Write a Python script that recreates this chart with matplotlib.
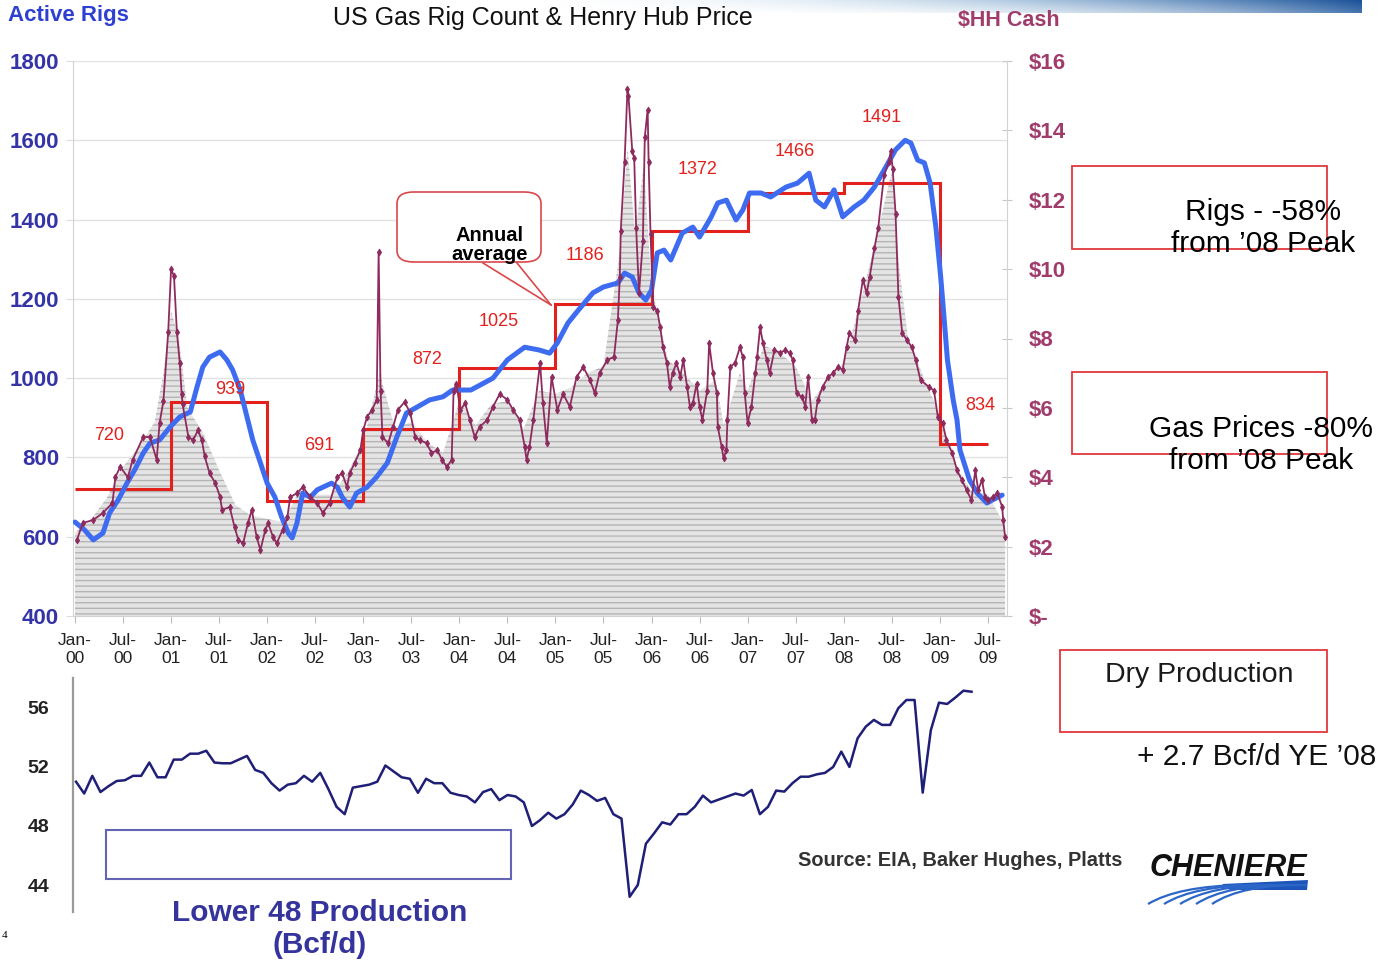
import numpy as np
import matplotlib.pyplot as plt
from matplotlib.patches import Rectangle, FancyBboxPatch, PathPatch, Polygon
from matplotlib.path import Path
from matplotlib.lines import Line2D

plt.rcParams['font.family'] = ['Liberation Sans', 'DejaVu Sans']
plt.rcParams['hatch.linewidth'] = 1.0

# --- weekly Henry Hub cash price ($/MMBtu), decimal year ---
price_t = [2000.02, 2000.08, 2000.19, 2000.29, 2000.39, 2000.42, 2000.47, 2000.55, 2000.60, 2000.71,
           2000.78, 2000.85, 2000.88, 2000.92, 2000.97,
           2001.00, 2001.03, 2001.06, 2001.09, 2001.11, 2001.12, 2001.18, 2001.23, 2001.28, 2001.32,
           2001.35, 2001.40, 2001.46, 2001.51, 2001.53, 2001.61, 2001.66, 2001.70, 2001.75, 2001.80,
           2001.84, 2001.89, 2001.93, 2001.98,
           2002.01, 2002.06, 2002.10, 2002.16, 2002.21, 2002.24, 2002.31, 2002.37, 2002.45, 2002.52,
           2002.58, 2002.65, 2002.73, 2002.78, 2002.83, 2002.86, 2002.91, 2002.97,
           2003.00, 2003.04, 2003.09, 2003.14, 2003.16, 2003.18, 2003.20, 2003.26, 2003.31, 2003.36,
           2003.43, 2003.49, 2003.54, 2003.59, 2003.66, 2003.71, 2003.77, 2003.82, 2003.87, 2003.92,
           2003.94, 2003.97,
           2004.01, 2004.06, 2004.11, 2004.16, 2004.21, 2004.29, 2004.35, 2004.42, 2004.50, 2004.56,
           2004.63, 2004.68, 2004.70, 2004.73, 2004.77, 2004.84, 2004.87, 2004.91, 2004.96,
           2005.02, 2005.08, 2005.15, 2005.22, 2005.29, 2005.36, 2005.41, 2005.46, 2005.54, 2005.61,
           2005.65, 2005.67, 2005.68, 2005.72, 2005.75, 2005.76, 2005.80, 2005.82, 2005.84, 2005.87,
           2005.91, 2005.93, 2005.96, 2005.97, 2005.99,
           2006.02, 2006.06, 2006.09, 2006.12, 2006.16, 2006.19, 2006.22, 2006.26, 2006.30, 2006.33,
           2006.37, 2006.40, 2006.43, 2006.47, 2006.50, 2006.53, 2006.58, 2006.60, 2006.64, 2006.68,
           2006.69, 2006.73, 2006.75, 2006.78, 2006.79, 2006.82, 2006.87, 2006.92, 2006.95, 2006.97,
           2007.00, 2007.04, 2007.08, 2007.10, 2007.13, 2007.16, 2007.20, 2007.23, 2007.28, 2007.34,
           2007.39, 2007.44, 2007.47, 2007.51, 2007.57, 2007.60, 2007.63, 2007.67, 2007.70, 2007.73,
           2007.78, 2007.84, 2007.89, 2007.94, 2007.99,
           2008.03, 2008.06, 2008.12, 2008.15, 2008.20, 2008.24, 2008.27, 2008.32, 2008.36, 2008.42,
           2008.47, 2008.49, 2008.51, 2008.54, 2008.57, 2008.61, 2008.66, 2008.71, 2008.75, 2008.80,
           2008.89, 2008.94, 2008.98,
           2009.03, 2009.07, 2009.13, 2009.18, 2009.23, 2009.28, 2009.33, 2009.37, 2009.40, 2009.44,
           2009.47, 2009.50, 2009.55, 2009.60, 2009.65, 2009.66, 2009.68]
price_usd = [2.19, 2.68, 2.77, 2.97, 3.26, 4.0, 4.3, 4.0, 4.5, 5.16,
             5.16, 4.5, 5.56, 6.2, 8.2,
             10.0, 9.8, 8.2, 7.3, 6.4, 6.1, 5.16, 5.07, 5.36, 5.07,
             4.6, 4.12, 3.83, 3.43, 3.06, 3.14, 2.57, 2.19, 2.1, 2.68,
             3.06, 2.28, 1.9, 2.48,
             2.68, 2.28, 2.1, 2.48, 2.85, 3.43, 3.54, 3.72, 3.43, 3.26,
             2.97, 3.26, 4.0, 4.12, 3.72, 4.12, 4.41, 4.78,
             5.36, 5.74, 5.94, 6.23, 10.5, 6.5, 5.16, 4.98, 5.45, 5.94,
             6.17, 5.85, 5.16, 5.07, 4.98, 4.7, 4.78, 4.5, 4.3, 4.5,
             6.5, 6.7,
             5.94, 6.13, 5.65, 5.16, 5.45, 5.65, 6.03, 6.4, 6.23, 5.94,
             5.65, 4.88, 4.5, 4.88, 5.65, 7.3, 6.13, 4.98, 6.89,
             5.94, 6.4, 6.03, 6.89, 7.18, 6.8, 6.43, 7.0, 7.38, 7.47,
             8.53, 9.77, 11.1, 13.1, 15.2, 15.0, 13.4, 13.2, 11.2, 9.3,
             10.8, 13.8, 14.6, 13.1, 11.0,
             8.9, 8.8, 8.33, 7.75, 7.3, 6.6, 7.0, 7.3, 6.9, 7.38,
             6.6, 6.03, 6.13, 6.7, 6.03, 5.65, 6.5, 7.87, 7.0, 6.43,
             5.45, 4.88, 4.55, 4.78, 5.65, 7.18, 7.3, 7.75, 7.47, 6.43,
             5.56, 6.03, 7.0, 7.47, 8.33, 7.87, 7.38, 7.0, 7.67, 7.58,
             7.67, 7.58, 7.38, 6.43, 6.3, 6.03, 6.9, 5.65, 5.65, 6.23,
             6.6, 6.9, 7.0, 7.18, 7.1,
             7.75, 8.15, 7.95, 8.8, 9.7, 9.3, 9.77, 10.6, 11.2, 12.7,
             13.1, 13.4, 12.9, 11.6, 9.2, 8.15, 7.95, 7.75, 7.38, 6.8,
             6.6, 6.5, 5.74,
             5.56, 5.07, 4.7, 4.2, 3.92, 3.63, 3.34, 4.2, 3.63, 3.92,
             3.43, 3.34, 3.43, 3.54, 3.14, 2.77, 2.28]

# --- grey shaded price band ($) ---
band_t = [2000.00, 2000.17, 2000.33, 2000.50, 2000.67, 2000.83, 2000.92, 2001.00, 2001.08, 2001.17,
          2001.33, 2001.50, 2001.67, 2001.83, 2002.00, 2002.17, 2002.33, 2002.50, 2002.67, 2002.83,
          2003.00, 2003.17, 2003.33, 2003.50, 2003.67, 2003.83, 2004.00, 2004.17, 2004.33, 2004.50,
          2004.67, 2004.83, 2005.00, 2005.17, 2005.33, 2005.50, 2005.67, 2005.75, 2005.83, 2005.92,
          2006.00, 2006.17, 2006.33, 2006.50, 2006.67, 2006.75, 2006.92, 2007.00, 2007.17, 2007.33,
          2007.50, 2007.67, 2007.83, 2008.00, 2008.17, 2008.33, 2008.50, 2008.58, 2008.67, 2008.83,
          2009.00, 2009.17, 2009.33, 2009.50, 2009.68]
band_usd = [2.4, 2.8, 3.4, 4.3, 4.9, 5.6, 7.0, 8.8, 8.0, 6.0,
            5.3, 4.2, 3.2, 2.9, 2.8, 2.7, 3.6, 3.5, 3.5, 4.1,
            5.0, 7.0, 5.4, 5.6, 5.0, 4.7, 6.2, 5.5, 6.1, 6.2,
            5.4, 6.5, 6.4, 6.6, 7.0, 7.2, 10.5, 13.5, 11.0, 13.0,
            9.5, 7.4, 7.0, 6.5, 6.8, 5.5, 7.0, 6.5, 7.8, 7.6,
            7.2, 6.2, 6.8, 7.3, 9.0, 10.8, 12.8, 10.0, 8.0, 6.9,
            5.8, 4.3, 3.6, 3.5, 2.6]

# --- US gas rig count ---
rig_t = [2000.00, 2000.10, 2000.19, 2000.29, 2000.36, 2000.45, 2000.54, 2000.62, 2000.71, 2000.78, 2000.88, 2000.99,
         2001.09, 2001.20, 2001.27, 2001.33, 2001.40, 2001.51, 2001.58, 2001.64, 2001.72, 2001.79, 2001.85, 2001.93,
         2002.00, 2002.08, 2002.15, 2002.22, 2002.26, 2002.31, 2002.37, 2002.45, 2002.52, 2002.58, 2002.67, 2002.73,
         2002.78, 2002.86, 2002.93,
         2003.04, 2003.14, 2003.25, 2003.35, 2003.45, 2003.56, 2003.69, 2003.83, 2003.93,
         2004.04, 2004.12, 2004.35, 2004.50, 2004.68, 2004.83, 2004.94,
         2005.02, 2005.13, 2005.24, 2005.39, 2005.50, 2005.65, 2005.72, 2005.80, 2005.87, 2005.94,
         2006.00, 2006.06, 2006.13, 2006.20, 2006.32, 2006.43, 2006.50, 2006.62, 2006.69, 2006.78, 2006.88, 2006.95,
         2007.02, 2007.14, 2007.24, 2007.40, 2007.52, 2007.64, 2007.71, 2007.80, 2007.90, 2007.99,
         2008.11, 2008.21, 2008.32, 2008.44, 2008.54, 2008.64, 2008.70, 2008.77, 2008.84, 2008.90, 2008.96,
         2009.01, 2009.03, 2009.08, 2009.14, 2009.18, 2009.21, 2009.31, 2009.39, 2009.49, 2009.55, 2009.65]
rigs = [637, 617, 592, 609, 660, 693, 735, 768, 811, 836, 844, 877,
        902, 915, 978, 1028, 1053, 1066, 1046, 1021, 970, 902, 844, 786,
        735, 700, 650, 609, 597, 635, 710, 700, 718, 725, 735, 725,
        700, 675, 710,
        725, 751, 786, 852, 912, 927, 945, 953, 970,
        970, 970, 1000, 1046, 1078, 1071, 1063,
        1089, 1139, 1172, 1215, 1230, 1240, 1265, 1255, 1215, 1197,
        1222, 1316, 1323, 1298, 1366, 1381, 1356, 1406, 1442, 1449, 1399, 1424,
        1467, 1467, 1457, 1482, 1492, 1517, 1449, 1432, 1475, 1407,
        1432, 1449, 1482, 1533, 1576, 1600, 1593, 1550, 1543, 1492, 1381,
        1255, 1197, 1046, 945, 894, 819, 743, 710, 685, 693, 705]

# --- annual average rig count ---
avg_edges = [2000, 2001, 2002, 2003, 2004, 2005, 2006, 2007, 2008, 2009, 2009.5]
avg_rigs = [720, 939, 691, 872, 1025, 1186, 1372, 1466, 1491, 834]

# --- Lower 48 dry production, monthly from Jan-2000 (Bcf/d) ---
prod_bcfd = [51.0, 50.2, 51.4, 50.3, 50.7, 51.05, 51.1, 51.4, 51.4, 52.3, 51.3, 51.3,
             52.5, 52.5, 52.9, 52.9, 53.1, 52.3, 52.25, 52.25, 52.5, 52.75, 51.8, 51.6,
             50.9, 50.4, 50.8, 50.9, 51.4, 51.0, 51.6, 50.5, 49.3, 48.8, 50.6, 50.7,
             50.8, 51.0, 52.1, 51.7, 51.3, 51.2, 50.25, 51.2, 50.9, 50.9, 50.25, 50.1,
             50.0, 49.6, 50.3, 50.5, 49.75, 50.1, 50.0, 49.6, 48.0, 48.4, 48.9, 48.5,
             48.8, 49.45, 50.4, 50.1, 49.7, 49.9, 48.8, 48.5, 43.2, 44.0, 46.8, 47.5,
             48.25, 48.1, 48.8, 48.8, 49.3, 50.06, 49.6, 49.8, 50.0, 50.2, 50.06, 50.44,
             48.8, 49.3, 50.4, 50.33, 50.9, 51.34, 51.34, 51.5, 51.6, 52.0, 53.04, 52.0,
             53.94, 54.73, 55.19, 54.85, 54.85, 55.98, 56.54, 56.54, 50.26, 54.5, 56.36, 56.27,
             56.7, 57.17, 57.1]

x_ticks = [2000 + 0.5 * i for i in range(20)]
x_labels = [('Jan-' if i % 2 == 0 else 'Jul-') + '\n' + f'{i // 2:02d}' for i in range(20)]
rig_ticks = [400, 600, 800, 1000, 1200, 1400, 1600, 1800]
usd_ticks = [0, 2, 4, 6, 8, 10, 12, 14, 16]
usd_labels = ['$-'] + [f'${v}' for v in usd_ticks[1:]]
prod_ticks = [44, 48, 52, 56]

W, H = 1395, 966
BLUE_TXT = '#3434a8'
MAROON = '#8e2b5e'
RED = '#e3201b'
GREYLINE = '#d2d2d2'


def fx(x):
    return x / W


def fy(y):
    return 1 - y / H


def fig_rect(x0, y0, x1, y1):
    return [fx(x0), fy(y1), fx(x1) - fx(x0), fy(y0) - fy(y1)]


fig = plt.figure(figsize=(W / 100, H / 100), dpi=100)
fig.patch.set_facecolor('white')

# top banner swoosh
ban = fig.add_axes(fig_rect(520, 0, 1362, 13))
ban.axis('off')
gx = np.linspace(0, 1, 300)
gy = np.linspace(0, 1, 20)[:, None]
rgba = np.zeros((20, 300, 4))
rgba[..., 0] = 0.10 + 0.45 * (1 - gx)
rgba[..., 1] = 0.32 + 0.45 * (1 - gx)
rgba[..., 2] = 0.60 + 0.30 * (1 - gx)
rgba[..., 3] = np.clip(gx ** 1.6 * (1.0 - gy * (1.2 - gx)), 0, 1)
ban.imshow(rgba, aspect='auto', extent=[0, 1, 0, 1], origin='upper')

rect_top = fig_rect(73, 61, 1007, 616)
t_lim = (1999.979, 2009.70)

# shaded band (price scale)
axf = fig.add_axes(rect_top)
axf.set_xlim(*t_lim)
axf.set_ylim(0, 16)
axf.fill_between(band_t, band_usd, 0, facecolor='#e4e4e4', edgecolor='#b4b4b4',
                 hatch='---', linewidth=0)
axf.axis('off')

# rigs (left scale)
ax = fig.add_axes(rect_top)
ax.patch.set_visible(False)
ax.set_xlim(*t_lim)
ax.set_ylim(400, 1800)
ax.set_yticks(rig_ticks)
ax.set_yticklabels([str(v) for v in rig_ticks])
ax.grid(axis='y', color='#e2e2e2', linewidth=1)
ax.set_axisbelow(True)
ax.stairs(avg_rigs, avg_edges, baseline=None, color=RED, linewidth=2.2, zorder=3)
ax.plot(rig_t, rigs, color='#3d6cf0', linewidth=3.6, solid_capstyle='round', zorder=4)
ax.set_xticks(x_ticks)
ax.set_xticklabels(x_labels, fontsize=12.5, color='#222222', linespacing=1.25)
ax.tick_params(axis='x', length=5, color='#bbbbbb', pad=7)
ax.tick_params(axis='y', length=5, color='#dddddd', pad=5, labelsize=16, labelcolor=BLUE_TXT)
for lab in ax.get_yticklabels():
    lab.set_fontweight('bold')
for s in ['top', 'right']:
    ax.spines[s].set_visible(False)
for s in ['left', 'bottom']:
    ax.spines[s].set_color(GREYLINE)

# price (right scale)
axp = fig.add_axes(rect_top)
axp.patch.set_visible(False)
axp.set_xlim(*t_lim)
axp.set_ylim(0, 16)
axp.plot(price_t, price_usd, color=MAROON, linewidth=1.3, marker='d', markersize=3.5,
         markeredgewidth=0.6, zorder=5)
axp.yaxis.tick_right()
axp.set_yticks(usd_ticks)
axp.set_yticklabels(usd_labels)
axp.tick_params(axis='y', length=7, direction='inout', color='#c8c8c8', pad=12,
                labelsize=16, labelcolor='#a03c6c')
for lab in axp.get_yticklabels():
    lab.set_fontweight('bold')
axp.set_xticks([])
for s in ['top', 'left', 'bottom']:
    axp.spines[s].set_visible(False)
axp.spines['right'].set_color(GREYLINE)

# annual average labels
avg_label_px = [(109, 435), (230, 389), (319, 445), (427, 359), (499, 322),
                (585, 255), (698, 169), (795, 152), (882, 117), (980, 405)]
for v, (px, py) in zip(avg_rigs, avg_label_px):
    fig.text(fx(px), fy(py), str(v), color=RED, fontsize=13, ha='center', va='center', zorder=10)

# callout "Annual average"
box = FancyBboxPatch((fx(397), fy(262)), fx(541) - fx(397), fy(192) - fy(262),
                     boxstyle='round,pad=0,rounding_size=0.012', transform=fig.transFigure,
                     facecolor='white', edgecolor='#d9474a', linewidth=1.2, zorder=6)
fig.add_artist(box)
for bx in (483, 517):
    fig.add_artist(Line2D([fx(bx), fx(551)], [fy(263), fy(305)], transform=fig.transFigure,
                          color='#d9474a', linewidth=1.2, zorder=6))
fig.text(fx(490), fy(245), 'Annual\naverage', fontsize=14.5, fontweight='bold',
         ha='center', va='center', linespacing=1.05, zorder=7)

# header texts
fig.text(fx(8), fy(16), 'Active Rigs', fontsize=16, fontweight='bold', color='#2e40d2',
         ha='left', va='center')
fig.text(fx(543), fy(18), 'US Gas Rig Count & Henry Hub Price', fontsize=18,
         color='#111111', ha='center', va='center')
fig.text(fx(958), fy(21), '$HH Cash', fontsize=15.5, fontweight='bold', color='#a03c6c',
         ha='left', va='center')

# right-side note boxes
for (x0, y0, x1, y1) in [(1072, 166, 1327, 249), (1072, 372, 1327, 454), (1060, 650, 1327, 732)]:
    fig.add_artist(Rectangle((fx(x0), fy(y1)), fx(x1) - fx(x0), fy(y0) - fy(y1),
                             transform=fig.transFigure, facecolor='none',
                             edgecolor='#e0383c', linewidth=1.3))
fig.text(fx(1263), fy(228), 'Rigs - -58%\nfrom \u201908 Peak', fontsize=21.5,
         ha='center', va='center', linespacing=1.2)
fig.text(fx(1261), fy(445), 'Gas Prices -80%\nfrom \u201908 Peak', fontsize=21.5,
         ha='center', va='center', linespacing=1.2)
fig.text(fx(1199), fy(675), 'Dry Production', fontsize=20.5, color='#1a1a1a',
         ha='center', va='center')
fig.text(fx(1257), fy(757), '+ 2.7 Bcf/d YE \u201908', fontsize=21.5, color='#111111',
         ha='center', va='center')

# bottom production chart
axb = fig.add_axes(fig_rect(73, 678, 1005, 912))
prod_t = 2000 + np.arange(len(prod_bcfd)) / 12
axb.plot(prod_t, prod_bcfd, color='#1f1f78', linewidth=1.8)
axb.set_xlim(1999.969, 2009.509)
axb.set_ylim(42.17, 58.03)
axb.set_yticks(prod_ticks)
axb.set_yticklabels([str(v) for v in prod_ticks])
axb.set_xticks([])
axb.tick_params(axis='y', length=0, pad=17, labelsize=14, labelcolor='#222222')
for lab in axb.get_yticklabels():
    lab.set_fontweight('bold')
for s in ['top', 'right', 'bottom']:
    axb.spines[s].set_visible(False)
axb.spines['left'].set_color('#9a9a9a')
axb.spines['left'].set_linewidth(1.6)
axb.patch.set_visible(False)

fig.add_artist(Rectangle((fx(106), fy(879)), fx(511) - fx(106), fy(830) - fy(879),
                         transform=fig.transFigure, facecolor='none',
                         edgecolor='#6464b4', linewidth=1.5))
fig.text(fx(320), fy(929), 'Lower 48 Production\n(Bcf/d)', fontsize=21.5, fontweight='bold',
         color='#34349c', ha='center', va='center', linespacing=1.15)
fig.text(fx(960), fy(861), 'Source: EIA, Baker Hughes, Platts', fontsize=14.4,
         fontweight='bold', color='#333333', ha='center', va='center')
fig.text(fx(2), fy(935), '4', fontsize=8, family='Liberation Serif', ha='left', va='center')

# Cheniere logo
fig.text(fx(1228), fy(868), 'CHENIERE', fontsize=22, fontweight='bold', style='italic',
         color='#111111', ha='center', va='center')
fig.add_artist(Polygon([(fx(1222), fy(884)), (fx(1308), fy(880)), (fx(1307), fy(890)),
                        (fx(1230), fy(890))], closed=True, transform=fig.transFigure,
                       facecolor='#1d55b8', edgecolor='none'))
for k in range(5):
    x0 = 1148 + k * 16
    verts = [(fx(x0), fy(904)), (fx(x0 + 30), fy(886 - k * 0.5)), (fx(x0 + 95), fy(885))]
    p = Path(verts, [Path.MOVETO, Path.CURVE3, Path.CURVE3])
    fig.add_artist(PathPatch(p, transform=fig.transFigure, facecolor='none',
                             edgecolor='#2b66c8', linewidth=1.6))

fig.savefig('out.png', dpi=100, facecolor='white')
